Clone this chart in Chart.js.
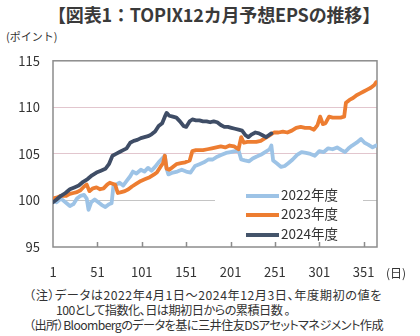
<!DOCTYPE html>
<html>
<head>
<meta charset="utf-8">
<script src="https://cdn.jsdelivr.net/npm/chart.js@4/dist/chart.umd.min.js"></script>
<style>
  body { margin: 0; width: 420px; height: 336px; background: #fff; position: relative; overflow: hidden;
         font-family: "Noto Sans CJK JP", sans-serif; color: #333; }
  .abs { position: absolute; white-space: nowrap; }
  #title { left: 48px; top: 1px; font-size: 18px; font-weight: bold; color: #3a3a3a; }
  #unit { left: 6px; top: 28px; font-size: 11px; }
  #day { left: 386px; top: 264px; font-size: 12px; }
  #box { position: absolute; left: 0; top: 40px; width: 420px; height: 240px; }
  #legend { position: absolute; left: 215px; top: 184px; width: 148px; height: 58px; background: #fff; }
  .row { position: absolute; left: 31px; height: 20px; font-size: 13.5px; line-height: 20px; }
  .row span { display: inline-block; width: 33px; height: 4px; vertical-align: middle; margin-right: 2px; }
  .note { left: 29px; font-size: 12.2px; line-height: 16px; font-feature-settings: "palt"; }
</style>
</head>
<body>
<div id="title" class="abs" data-w="332">【図表1：TOPIX12カ月予想EPSの推移】</div>
<div id="unit" class="abs">(ポイント)</div>
<div id="box"><canvas id="epsChart"></canvas></div>
<div id="legend">
  <div class="row" style="top:0px"><span style="background:#9dc3e6"></span>2022年度</div>
  <div class="row" style="top:19px"><span style="background:#ed7d31"></span>2023年度</div>
  <div class="row" style="top:39px"><span style="background:#44546a"></span>2024年度</div>
</div>
<div id="day" class="abs">(日)</div>
<div class="abs note" data-w="353" style="top:287px">（注）データは2022年4月1日～2024年12月3日、年度期初の値を</div>
<div class="abs note" data-w="234" style="top:302px;left:56px">100として指数化、日は期初日からの累積日数 。</div>
<div class="abs note" data-w="354" style="top:317px">（出所）Bloombergのデータを基に三井住友DSアセットマネジメント作成</div>

<script>
// 年度期初からの日数と指数 (期初=100)
const days2022 = [1, 5, 10, 15, 20, 24, 28, 32, 36, 39, 41, 44, 48, 52, 56, 60, 64, 67, 69, 72, 76, 80, 84, 88, 91, 95,
  100, 104, 108, 112, 116, 120, 124, 127, 129, 131, 136, 141, 146, 151, 156, 161, 166, 171, 176, 181, 186, 191, 196,
  201, 206, 210, 213, 217, 222, 226, 230, 235, 240, 245, 247, 249, 253, 258, 262, 266, 271, 276, 281, 286, 291, 296,
  301, 306, 311, 316, 321, 326, 330, 334, 338, 343, 348, 352, 356, 361, 365];
const fy2022 = [100, 99.8, 100.2, 99.8, 99.4, 99.6, 100.2, 100.5, 100.6, 100.2, 99.0, 99.8, 100.1, 99.8, 99.5, 99.3, 99.6, 99.7, 101.5, 101.7, 101.9, 101.6, 102.1, 102.6, 103.1, 102.9,
  103.3, 103.1, 103.5, 103.2, 103.6, 104.1, 104.5, 104.8, 103.4, 102.8, 103.0, 103.1, 103.3, 103.1, 103.0, 103.7, 103.9, 104.1, 104.4, 104.4, 104.7, 104.9, 105.1,
  105.2, 105.3, 105.4, 104.4, 104.3, 104.2, 104.5, 104.7, 104.9, 105.2, 105.5, 105.9, 104.3, 104.0, 103.6, 103.7, 104.0, 104.4, 104.9, 105.2, 105.1, 105.0, 104.8,
  105.3, 105.2, 105.6, 105.5, 105.7, 105.4, 105.2, 105.6, 105.9, 106.2, 106.6, 106.2, 106.0, 105.7, 105.9];

const days2023 = [1, 5, 10, 16, 20, 24, 28, 32, 36, 39, 42, 46, 50, 54, 58, 62, 65, 68, 71, 74, 78, 82, 86, 90, 95,
  100, 105, 110, 115, 118, 122, 125, 127, 129, 132, 136, 140, 145, 150, 155, 158, 162, 166, 170, 175, 180, 185, 190, 195,
  200, 205, 210, 213, 216, 220, 225, 230, 235, 240, 245, 250, 255, 260, 265, 270, 275, 280, 285, 290, 295, 299,
  302, 305, 308, 312, 316, 320, 325, 329, 331, 335, 339, 343, 347, 351, 355, 359, 363, 365];
const fy2023 = [100.2, 100.3, 100.5, 100.5, 100.7, 100.8, 100.9, 101.1, 101.5, 101.7, 101.0, 101.3, 101.4, 101.2, 101.3, 101.7, 101.9, 101.8, 101.7, 100.8, 100.9, 101.0, 101.2, 101.5, 101.8,
  102.1, 102.3, 102.5, 102.8, 103.0, 103.6, 104.0, 104.8, 103.4, 103.3, 103.6, 103.9, 104.0, 104.1, 104.3, 105.3, 105.4, 105.4, 105.4, 105.5, 105.6, 105.7, 105.8, 105.7,
  105.9, 105.8, 105.5, 106.8, 106.2, 106.3, 106.3, 106.3, 106.4, 106.7, 107.0, 107.3, 107.3, 107.4, 107.3, 107.5, 107.8, 107.9, 107.8, 107.8, 107.6, 108.1,
  109.0, 108.2, 108.3, 109.0, 108.9, 108.9, 108.9, 109.0, 110.5, 110.8, 111.0, 111.3, 111.5, 111.7, 111.9, 112.1, 112.4, 112.7];

const days2024 = [1, 5, 10, 15, 20, 25, 30, 35, 40, 45, 50, 55, 60, 64, 68, 72, 76, 80, 84, 88, 92, 96,
  100, 104, 108, 112, 116, 120, 124, 127, 129, 132, 136, 140, 144, 148, 151, 155, 158, 162, 166, 170, 174, 178, 182, 186, 190, 194, 198,
  202, 206, 210, 214, 218, 221, 225, 229, 233, 237, 241, 244, 247];
const fy2024 = [99.8, 100.1, 100.5, 100.8, 101.2, 101.4, 101.6, 102.0, 102.3, 102.7, 103.0, 103.2, 103.4, 103.9, 104.8, 105.0, 105.2, 105.4, 105.6, 106.2, 106.4, 106.5,
  106.7, 106.8, 106.9, 107.1, 107.4, 108.0, 108.3, 109.0, 109.4, 109.1, 109.0, 108.9, 108.5, 108.0, 107.9, 108.5, 108.7, 108.6, 108.6, 108.5, 108.5, 108.4, 108.5, 108.4, 108.1, 107.9, 107.9,
  107.8, 107.7, 107.6, 107.5, 107.0, 106.8, 107.1, 107.3, 107.2, 107.0, 106.8, 107.0, 107.2];

const xTicks = [1, 51, 101, 151, 201, 251, 301, 351];
const yTicks = [95, 100, 105, 110, 115];

const pts = (d, v) => d.map((x, i) => ({ x: x, y: v[i] }));

// 文字列を元の幅に合わせる
document.querySelectorAll('[data-w]').forEach(el => {
  const n = el.textContent.length;
  const diff = +el.dataset.w - el.getBoundingClientRect().width;
  el.style.letterSpacing = (diff / n) + 'px';
});

// 枠線と内向きの目盛り
const frame = {
  id: 'frame',
  beforeDatasetsDraw(chart) {
    const { ctx, chartArea: a, scales } = chart;
    ctx.save();
    ctx.strokeStyle = '#8c8c8c';
    ctx.lineWidth = 1.5;
    ctx.strokeRect(a.left, a.top, a.right - a.left, a.bottom - a.top);
    ctx.beginPath();
    xTicks.slice(1).forEach(t => {
      const x = Math.round(scales.x.getPixelForValue(t)) + 0.5;
      ctx.moveTo(x, a.bottom);
      ctx.lineTo(x, a.bottom - 5);
    });
    ctx.stroke();
    ctx.restore();
  }
};

const ctx = document.getElementById('epsChart').getContext('2d');
new Chart(ctx, {
  type: 'line',
  data: {
    datasets: [
      { label: '2024年度', data: pts(days2024, fy2024), borderColor: '#3f4d66' },
      { label: '2023年度', data: pts(days2023, fy2023), borderColor: '#ed7d31' },
      { label: '2022年度', data: pts(days2022, fy2022), borderColor: '#9dc3e6' }
    ]
  },
  options: {
    responsive: true,
    maintainAspectRatio: false,
    animation: false,
    layout: { padding: { left: 0, right: 43, top: 14, bottom: 0 } },
    elements: {
      line: { borderWidth: 3.8, tension: 0, borderJoinStyle: 'round', borderCapStyle: 'round' },
      point: { radius: 0 }
    },
    plugins: { legend: { display: false }, tooltip: { enabled: false } },
    scales: {
      x: {
        type: 'linear', min: 1, max: 366,
        afterBuildTicks: s => { s.ticks = xTicks.map(v => ({ value: v })); },
        afterFit: s => { s.height = 33; },
        grid: { display: false },
        border: { display: false },
        ticks: { color: '#333', padding: 9, maxRotation: 0, font: { family: 'Noto Sans CJK JP', size: 13 } }
      },
      y: {
        min: 95, max: 115,
        afterBuildTicks: s => { s.ticks = yTicks.map(v => ({ value: v })); },
        afterFit: s => { s.width = 53; },
        grid: {
          drawTicks: false,
          lineWidth: 1,
          color: c => c.tick.value === 100 ? '#c4c4c4' : (c.tick.value === 95 || c.tick.value === 115 ? 'rgba(0,0,0,0)' : '#e2c6ce')
        },
        border: { display: false },
        ticks: { color: '#333', padding: 13, font: { family: 'Noto Sans CJK JP', size: 13 } }
      }
    }
  },
  plugins: [frame]
});
</script>
</body>
</html>
